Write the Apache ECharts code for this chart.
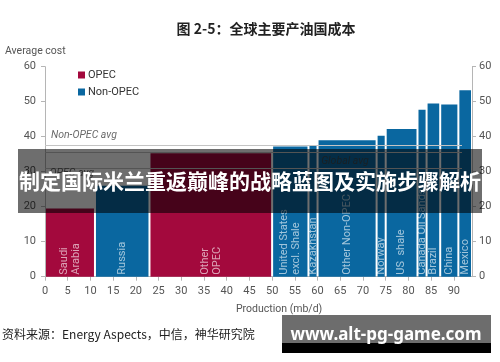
<!DOCTYPE html>
<html>
<head>
<meta charset="utf-8">
<script src="https://cdn.jsdelivr.net/npm/echarts@6/dist/echarts.min.js"></script>
<style>html,body{margin:0;padding:0;background:#fff;}#c{width:500px;height:362px;}</style>
</head>
<body>
<div id="c"></div>
<script>
// ---- data ----
const categories = ['Saudi\nArabia','Russia','Other\nOPEC','United States\nexcl. Shale','Kazakhstan','Other Non-OPEC','Norway','US  shale','Canada Oil Sands','Brazil','China','Mexico'];
const groups = ['OPEC','Non-OPEC','OPEC','Non-OPEC','Non-OPEC','Non-OPEC','Non-OPEC','Non-OPEC','Non-OPEC','Non-OPEC','Non-OPEC','Non-OPEC'];
const production = [11, 12, 27, 8, 2, 13, 2, 7, 2, 3, 4, 3];        // mb/d (bar widths)
const avgCost = [19.5, 26, 35.3, 37.2, 37.5, 39, 40.3, 42.2, 47.7, 49.5, 49.2, 53.3];
const avgNames = ['Non-OPEC avg', 'Global avg', 'OPEC avg'];
const avgValues = [37.5, 35.6, 31];
const xTicks = [0,5,10,15,20,25,30,35,40,45,50,55,60,65,70,75,80,85,90];
const yTicks = [0,10,20,30,40,50,60];

const xMax = production.reduce((a,b)=>a+b,0);
const starts = [];
production.reduce((acc,w,i)=>{starts[i]=acc;return acc+w;},0);

function seriesData(g){
  const out=[];
  categories.forEach((c,i)=>{ if(groups[i]===g) out.push([starts[i], starts[i]+production[i], avgCost[i], i]); });
  return out;
}

function renderItem(params, api){
  const x0=api.value(0), x1=api.value(1), v=api.value(2), idx=api.value(3);
  const p0=api.coord([x0, v]), p1=api.coord([x1, 0]);
  const gap=1;
  const cx=(p0[0]+p1[0])/2;
  return {
    type:'group',
    children:[
      {type:'rect', shape:{x:p0[0]+gap, y:p0[1], width:Math.max(1,p1[0]-p0[0]-2*gap), height:p1[1]-p0[1]},
       style:{fill:api.visual('color')}},
      {type:'text', x:cx, y:p1[1]-2, rotation:Math.PI/2, z2:10,
       style:{text:categories[idx], x:0, y:0, align:'left', verticalAlign:'middle',
              fill:'rgba(255,255,255,0.62)', font:'11px Roboto, sans-serif', lineHeight:12}}
    ]
  };
}

const FONT='Roboto, "Noto Sans", sans-serif';
const chart = echarts.init(document.getElementById('c'), null, {renderer:'canvas'});
const axisCommon = {
  type:'value', min:0, max:60, interval:10,
  splitLine:{show:false},
  axisLine:{show:true, lineStyle:{color:'#b5b5b5'}},
  axisTick:{show:true, length:4, lineStyle:{color:'#b5b5b5'}},
};
const option = {
  animation:false,
  grid:{left:45, right:28, top:66.7, bottom:85.3},
  legend:{
    data:['OPEC','Non-OPEC'], orient:'vertical', left:78, top:69, padding:0,
    itemWidth:7, itemHeight:7, icon:'rect', itemGap:5,
    textStyle:{fontSize:11, color:'#333', fontFamily:FONT, lineHeight:12, padding:[0,0,0,-2]}
  },
  xAxis:{
    type:'value', min:0, max:xMax,
    splitLine:{show:false},
    axisLine:{show:true, lineStyle:{color:'#b5b5b5'}},
    axisTick:{show:true, length:4, lineStyle:{color:'#b5b5b5'}, customValues:xTicks},
    axisLabel:{customValues:xTicks, color:'#555', fontSize:11, fontFamily:FONT, margin:9}
  },
  yAxis:[
    Object.assign({}, axisCommon, {position:'left',
      axisLabel:{customValues:yTicks, color:'#555', fontSize:11, fontFamily:FONT, margin:9}}),
    Object.assign({}, axisCommon, {position:'right',
      axisLabel:{customValues:yTicks, color:'#555', fontSize:11, fontFamily:FONT, margin:7}})
  ],
  series:[
    {name:'OPEC', type:'custom', renderItem, itemStyle:{color:'#a3093d'},
     encode:{x:[0,1], y:2}, data:seriesData('OPEC')},
    {name:'Non-OPEC', type:'custom', renderItem, itemStyle:{color:'#0a67a0'},
     encode:{x:[0,1], y:2}, data:seriesData('Non-OPEC'),
     markLine:{silent:true, symbol:'none', z:5, label:{show:false},
       lineStyle:{color:'#c4c4c4', width:1, type:'solid'},
       data:avgValues.map(v=>[{coord:[0,v]},{coord:[91.8,v]}])}},
    {name:'avgLabels', type:'scatter', symbolSize:0, z:6, silent:true,
     data:[
       {name:avgNames[0], value:[1.3, avgValues[0]+2.9]},
       {name:avgNames[1], value:[60.8, avgValues[1]-2.7]},
       {name:avgNames[2], value:[1.0, avgValues[2]-1.6]}
     ],
     label:{show:true, position:'right', distance:0, formatter:p=>p.name,
       color:'#444', fontSize:10.5, fontStyle:'italic', fontFamily:FONT}}
  ],
  graphic:[
    {type:'text', left:null, x:266, y:29, z:50,
     style:{text:'图 2-5：全球主要产油国成本', align:'center', verticalAlign:'middle',
            font:'bold 14px "Noto Sans CJK SC", sans-serif', fill:'#222'}},
    {type:'text', x:5, y:51, z:50,
     style:{text:'Average cost', align:'left', verticalAlign:'middle', font:'10.5px '+FONT, fill:'#555'}},
    {type:'text', x:236, y:309, z:50,
     style:{text:'Production (mb/d)', align:'left', verticalAlign:'middle', font:'10.5px '+FONT, fill:'#555'}},
    {type:'text', x:2, y:334, z:50,
     style:{text:'资料来源：Energy Aspects，中信，神华研究院', align:'left', verticalAlign:'middle',
            font:'12px "Noto Sans CJK SC", sans-serif', fill:'#222'}},
    {type:'rect', z:100, shape:{x:18, y:149, width:464, height:64}, style:{fill:'rgba(0,0,0,0.57)'}},
    {type:'text', z:101, x:250, y:181,
     style:{text:'制定国际米兰重返巅峰的战略蓝图及实施步骤解析', align:'center', verticalAlign:'middle',
            font:'bold 21px "Noto Sans CJK SC", sans-serif', fill:'#fff'}},
    {type:'rect', z:100, shape:{x:282, y:315, width:209, height:28}, style:{fill:'#6d6d6d'}},
    {type:'rect', z:100, shape:{x:282, y:343, width:209, height:10}, style:{fill:'#000'}},
    {type:'text', z:101, x:386, y:335,
     style:{text:'www.alt-pg-game.com', align:'center', verticalAlign:'middle',
            font:'bold 17px "Noto Sans", sans-serif', fill:'#fff'}}
  ]
};
chart.setOption(option);
</script>
</body>
</html>
